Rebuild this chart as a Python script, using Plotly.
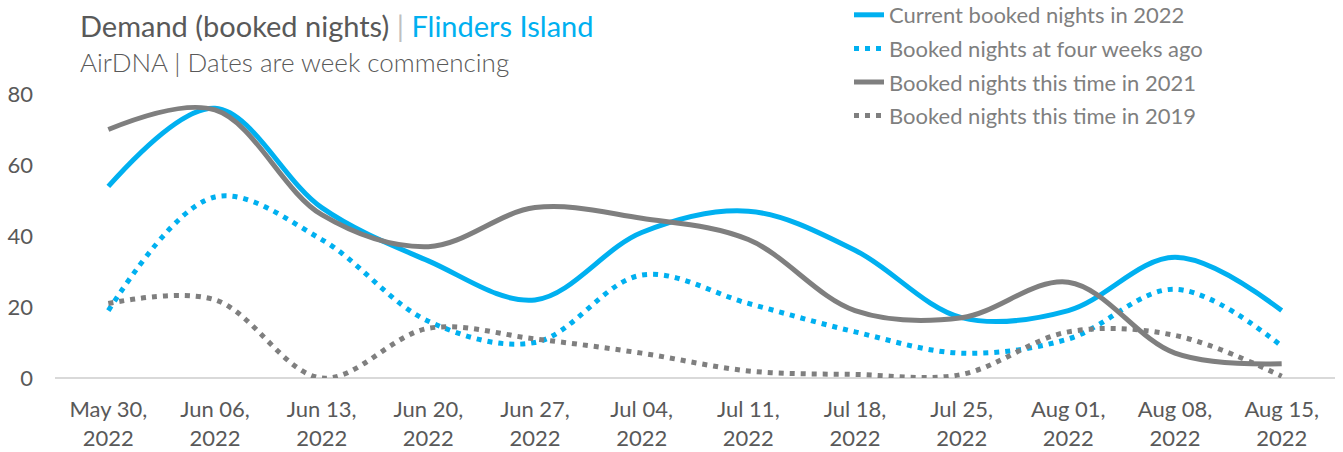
import plotly.graph_objects as go

weeks = ["May 30,<br>2022", "Jun 06,<br>2022", "Jun 13,<br>2022", "Jun 20,<br>2022",
         "Jun 27,<br>2022", "Jul 04,<br>2022", "Jul 11,<br>2022", "Jul 18,<br>2022",
         "Jul 25,<br>2022", "Aug 01,<br>2022", "Aug 08,<br>2022", "Aug 15,<br>2022"]

current_2022 = [54, 76, 48, 33, 22, 41, 47, 36, 17, 19, 34, 19]
four_weeks_ago = [19, 51, 39, 16, 10, 29, 21, 13, 7, 11, 25, 9]
this_time_2021 = [70, 75.5, 46, 37, 48, 45, 39, 19, 17, 27, 7, 4]
this_time_2019 = [21, 22, 0, 14, 11, 7, 2, 1, 1, 13, 12, 0.5]

names = ["Current booked nights in 2022", "Booked nights at four weeks ago",
         "Booked nights this time in 2021", "Booked nights this time in 2019"]

BLUE = "#00B0F0"
GREY = "#7F7F7F"
TEXT = "#595959"
FONT = "Lato"

series = [
    (current_2022, names[0], BLUE, "solid"),
    (four_weeks_ago, names[1], BLUE, "5px,6px"),
    (this_time_2021, names[2], GREY, "solid"),
    (this_time_2019, names[3], GREY, "5px,6px"),
]

W, H = 1343, 452
l, r, t, b = 55, 8, 94, 74
pw, ph = W - l - r, H - t - b
def px(xp):
    return (xp - l) / pw
def py(yp):
    return (H - b - yp) / ph

fig = go.Figure()
for i, (vals, name, color, dash) in enumerate(series):
    fig.add_trace(go.Scatter(
        x=weeks, y=vals, name=name, mode="lines",
        line=dict(color=color, width=5, dash=dash, shape="spline", smoothing=1.0),
        legendgroup=f"g{i}",
    ))

fig.update_layout(
    width=W, height=H,
    margin=dict(l=l, r=r, t=t, b=b, autoexpand=False),
    paper_bgcolor="white", plot_bgcolor="white",
    font=dict(family=FONT, color=TEXT, size=22),
    showlegend=True,
    legend=dict(x=px(849), y=py(-6), xanchor="left", yanchor="top",
                font=dict(size=22, color=GREY, family=FONT),
                tracegroupgap=2, bgcolor="rgba(0,0,0,0)"),
    xaxis=dict(type="category", showgrid=False, showline=False, zeroline=False,
               ticks="", tickfont=dict(size=22, color=TEXT), range=[-0.5, 11.5],
               automargin=False, ticklabelstandoff=16),
    yaxis=dict(range=[0, 80], tickvals=[0, 20, 40, 60, 80], showgrid=False,
               zeroline=True, zerolinecolor="#D9D9D9", zerolinewidth=2,
               showline=False, ticks="", ticklabelstandoff=21,
               tickfont=dict(size=22, color=TEXT), automargin=False),
)

fig.add_annotation(text="Demand (booked nights) <span style='color:#BFBFBF'>|</span> <span style='color:#00B0F0'>Flinders Island</span>",
                   x=px(78), y=py(25), xref="paper", yref="paper", xanchor="left", yanchor="middle",
                   showarrow=False, font=dict(size=29, color=TEXT, family=FONT))
fig.add_annotation(text="AirDNA | Dates are week commencing",
                   x=px(78), y=py(62), xref="paper", yref="paper", xanchor="left", yanchor="middle",
                   showarrow=False, font=dict(size=26, color=TEXT, family=FONT + " Light, " + FONT))

fig.write_html("out.html", config={"displayModeBar": False},
               post_script="document.body.style.margin='0';")
